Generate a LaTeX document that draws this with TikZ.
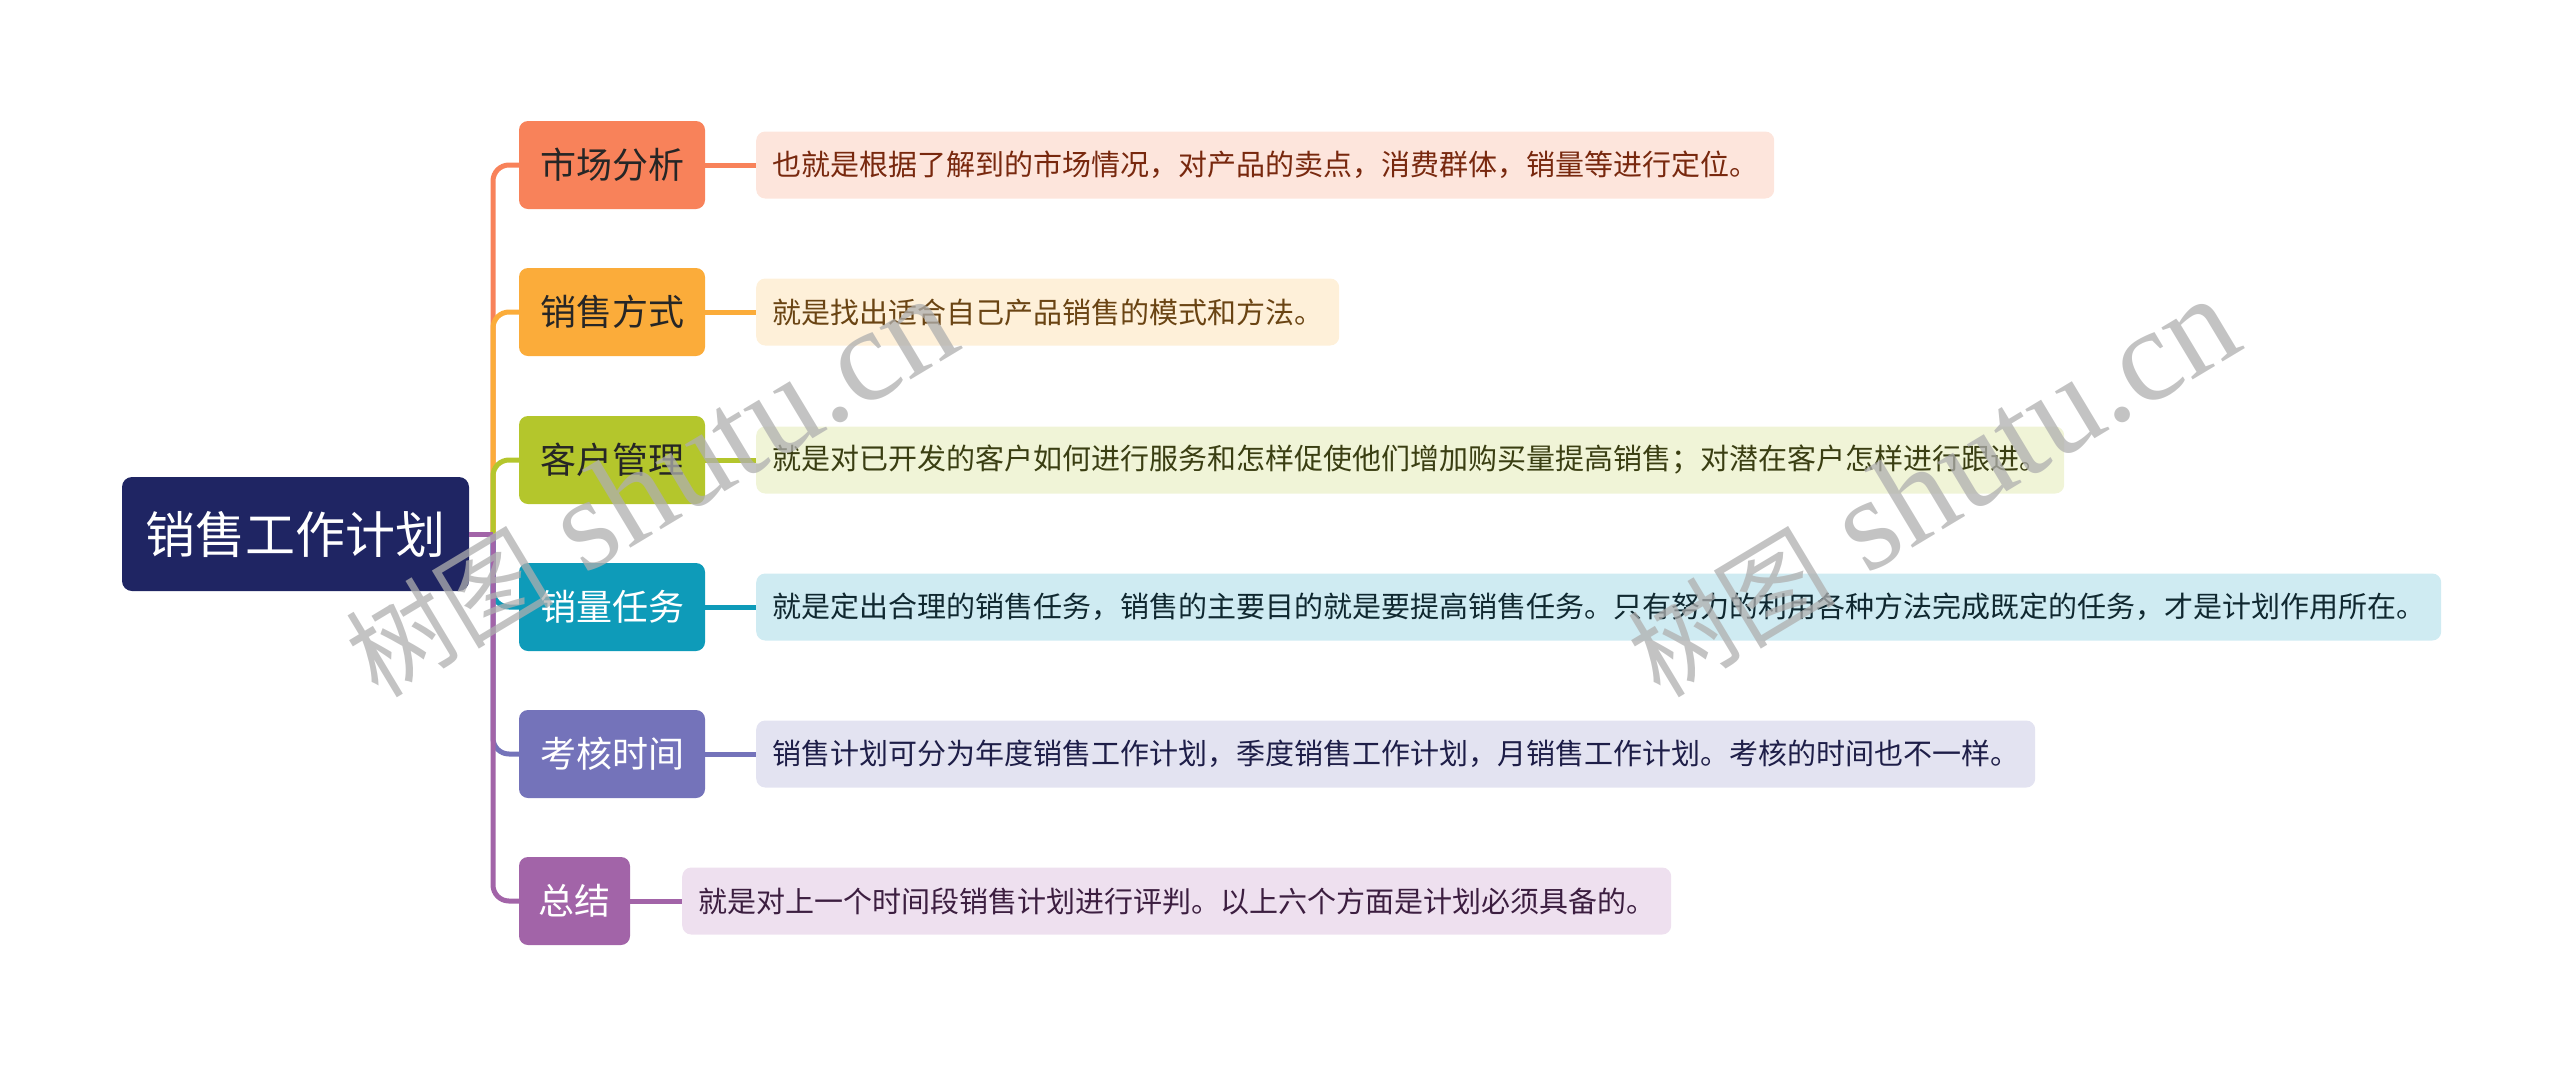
\documentclass[tikz,border=0pt]{standalone}
\usepackage{fontspec}
\newfontfamily\cjk{Noto Sans CJK SC}
\newfontfamily\wmfont{Liberation Serif}
\definecolor{rootc}{RGB}{31,37,99}
\definecolor{ca}{RGB}{248,130,90}
\definecolor{cb}{RGB}{251,172,58}
\definecolor{cc}{RGB}{180,198,44}
\definecolor{cd}{RGB}{14,155,185}
\definecolor{ce}{RGB}{116,115,186}
\definecolor{cf}{RGB}{162,100,168}
\definecolor{fa}{RGB}{253,229,220}
\definecolor{fb}{RGB}{254,240,217}
\definecolor{fc}{RGB}{240,244,215}
\definecolor{fd}{RGB}{207,235,242}
\definecolor{fe}{RGB}{227,227,241}
\definecolor{ff}{RGB}{238,224,239}
\definecolor{ta}{RGB}{120,40,14}
\definecolor{tb}{RGB}{106,68,19}
\definecolor{tc}{RGB}{58,62,18}
\definecolor{td}{RGB}{16,40,48}
\definecolor{te}{RGB}{30,30,72}
\definecolor{tf}{RGB}{60,30,64}
\definecolor{wm}{RGB}{175,175,175}
\tikzset{
  rootbox/.style={fill=rootc, text=white, rounded corners=10pt, minimum width=347pt, minimum height=114pt, inner sep=0pt, font=\cjk\fontsize{50}{58}\selectfont},
  topic/.style={rounded corners=9pt, minimum width=186pt, minimum height=88pt, inner sep=0pt, font=\cjk\fontsize{36}{42}\selectfont},
  desc/.style={rounded corners=9pt, minimum height=67pt, inner xsep=16pt, inner ysep=0pt, anchor=west, font=\cjk\fontsize{29}{34}\selectfont},
  link/.style={line width=5pt},
  trunk/.style={line width=5pt, rounded corners=16pt},
  wmark/.style={text=wm, opacity=0.75, rotate=31, anchor=base west, inner sep=0pt}
}
\begin{document}
\begin{tikzpicture}[x=1pt,y=-1pt]
\useasboundingbox (0,0) rectangle (2560,1069);
% root
\node[rootbox] (root) at (295.5,534) {销售工作计划};
\coordinate (j) at (493,534);
% topics
\node[topic, fill=ca, text=black!85] (t1) at (612,165) {市场分析};
\node[topic, fill=cb, text=black!85] (t2) at (612,312) {销售方式};
\node[topic, fill=cc, text=black!85] (t3) at (612,460) {客户管理};
\node[topic, fill=cd, text=white] (t4) at (612,607) {销量任务};
\node[topic, fill=ce, text=white] (t5) at (612,754) {考核时间};
\node[topic, fill=cf, text=white, minimum width=111pt] (t6) at (574.5,901) {总结};
% descriptions
\node[desc, fill=fa, text=ta] (d1) at (756,165) {也就是根据了解到的市场情况，对产品的卖点，消费群体，销量等进行定位。};
\node[desc, fill=fb, text=tb] (d2) at (756,312) {就是找出适合自己产品销售的模式和方法。};
\node[desc, fill=fc, text=tc] (d3) at (756,460) {就是对已开发的客户如何进行服务和怎样促使他们增加购买量提高销售；对潜在客户怎样进行跟进。};
\node[desc, fill=fd, text=td] (d4) at (756,607) {就是定出合理的销售任务，销售的主要目的就是要提高销售任务。只有努力的利用各种方法完成既定的任务，才是计划作用所在。};
\node[desc, fill=fe, text=te] (d5) at (756,754) {销售计划可分为年度销售工作计划，季度销售工作计划，月销售工作计划。考核的时间也不一样。};
\node[desc, fill=ff, text=tf] (d6) at (682,901) {就是对上一个时间段销售计划进行评判。以上六个方面是计划必须具备的。};
% connectors
\draw[trunk, ca] (j) |- (t1.west);
\draw[trunk, cb] (j) |- (t2.west);
\draw[trunk, cc] (j) |- (t3.west);
\draw[trunk, cd] (j) |- (t4.west);
\draw[trunk, ce] (j) |- (t5.west);
\draw[trunk, cf] (j) |- (t6.west);
\draw[link, cf] (root.east) -- (j);
\draw[link, ca] (t1.east) -- (d1.west);
\draw[link, cb] (t2.east) -- (d2.west);
\draw[link, cc] (t3.east) -- (d3.west);
\draw[link, cd] (t4.east) -- (d4.west);
\draw[link, ce] (t5.east) -- (d5.west);
\draw[link, cf] (t6.east) -- (d6.west);
% watermarks
\node[wmark] (w1) at (378,700) {\cjk\fontsize{104}{114}\selectfont 树图\wmfont\fontsize{132}{136}\selectfont\ shutu.cn};
\node[wmark] (w2) at (1660,700) {\cjk\fontsize{104}{114}\selectfont 树图\wmfont\fontsize{132}{136}\selectfont\ shutu.cn};
\end{tikzpicture}
\end{document}
